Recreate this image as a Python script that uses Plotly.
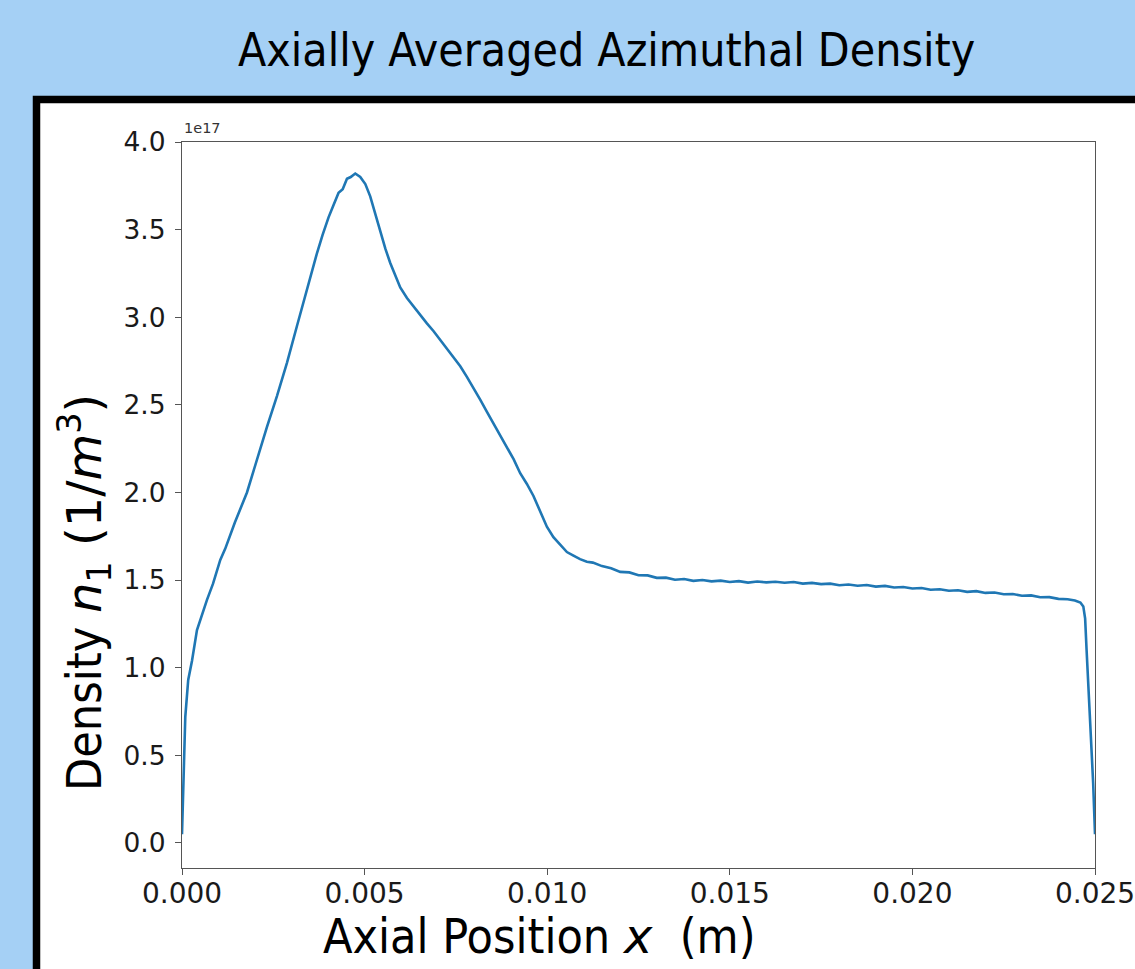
import plotly.graph_objects as go

# Axial position (m)
x_m = [
    0.0, 0.000044, 0.00009, 0.00017, 0.000274, 0.00041, 0.00055, 0.000684, 0.00085,
    0.001048, 0.001185, 0.00145, 0.001779, 0.00205, 0.002327, 0.0026, 0.002874,
    0.003148, 0.003422, 0.003695, 0.00385, 0.004013, 0.00415, 0.004287, 0.0044,
    0.004517, 0.00462, 0.004744, 0.004881, 0.00502, 0.005154, 0.00529, 0.005428,
    0.00557, 0.005702, 0.00584, 0.005976, 0.00616, 0.00634, 0.00652, 0.006706,
    0.00689, 0.00707, 0.00725, 0.007435, 0.00762, 0.007801, 0.00798, 0.008165,
    0.00835, 0.008529, 0.00871, 0.008896, 0.00908, 0.00926, 0.00944, 0.009624,
    0.00981, 0.009991, 0.01017, 0.010355, 0.01054, 0.010719, 0.0109, 0.011086,
    0.01125, 0.0115, 0.01175, 0.012, 0.01225, 0.0125, 0.01275, 0.013, 0.01325,
    0.0135, 0.01375, 0.014, 0.01425, 0.0145, 0.01475, 0.015, 0.01525, 0.0155,
    0.01575, 0.016, 0.01625, 0.0165, 0.01675, 0.017, 0.01725, 0.0175, 0.01775,
    0.018, 0.01825, 0.0185, 0.01875, 0.019, 0.01925, 0.0195, 0.01975, 0.02,
    0.02025, 0.0205, 0.02075, 0.021, 0.02125, 0.0215, 0.02175, 0.022, 0.02225,
    0.0225, 0.02275, 0.023, 0.02325, 0.0235, 0.02375, 0.024, 0.02425, 0.02445,
    0.0246, 0.02468, 0.02473, 0.02477, 0.02482, 0.02486, 0.02491, 0.02495, 0.025,
]

# Density n1 in units of 1e17 m^-3
n1_1e17 = [
    0.05, 0.47, 0.72, 0.93, 1.04, 1.215, 1.31, 1.387, 1.48,
    1.615, 1.68, 1.83, 2.0, 2.19, 2.375, 2.55, 2.74,
    2.95, 3.16, 3.365, 3.47, 3.57, 3.64, 3.71, 3.73,
    3.79, 3.80, 3.82, 3.80, 3.76, 3.69, 3.59, 3.48,
    3.39, 3.31, 3.24, 3.17, 3.11, 3.06, 3.01, 2.965,
    2.92, 2.87, 2.82, 2.775, 2.72, 2.66, 2.60, 2.53,
    2.46, 2.395, 2.33, 2.26, 2.19, 2.11, 2.05, 1.98,
    1.89, 1.805, 1.745, 1.70, 1.66, 1.64, 1.62, 1.605,
    1.600, 1.580, 1.568, 1.547, 1.544, 1.528, 1.527, 1.513, 1.514,
    1.502, 1.506, 1.496, 1.501, 1.493, 1.497, 1.489, 1.494, 1.486,
    1.492, 1.487, 1.491, 1.485, 1.489, 1.480, 1.484, 1.477, 1.480,
    1.471, 1.475, 1.468, 1.472, 1.463, 1.467, 1.458, 1.461, 1.452,
    1.455, 1.445, 1.448, 1.439, 1.442, 1.433, 1.437, 1.427, 1.429,
    1.419, 1.421, 1.411, 1.413, 1.402, 1.403, 1.393, 1.391, 1.384,
    1.372, 1.350, 1.28, 1.10, 0.90, 0.72, 0.52, 0.34, 0.05,
]

x_ticks = [0.0, 0.005, 0.010, 0.015, 0.020, 0.025]
x_tick_labels = ["0.000", "0.005", "0.010", "0.015", "0.020", "0.025"]
y_ticks = [0.0, 0.5, 1.0, 1.5, 2.0, 2.5, 3.0, 3.5, 4.0]
y_tick_labels = ["0.0", "0.5", "1.0", "1.5", "2.0", "2.5", "3.0", "3.5", "4.0"]

W, H = 1135, 969
L, R, T, B = 182, 40, 142, 101
PW, PH = W - L - R, H - T - B
BG = "#a5d0f5"


def px(xp):
    return (xp - L) / PW


def py(yp):
    return (H - B - yp) / PH


LABEL_FONT = "DejaVu Sans Condensed, Liberation Sans, sans-serif"
MATH = "font-family:DejaVu Sans"

fig = go.Figure()
fig.add_trace(go.Scatter(
    x=x_m, y=n1_1e17, mode="lines",
    line=dict(color="#1f77b4", width=2.6),
    showlegend=False, hoverinfo="skip",
))

axis_common = dict(
    showgrid=False, zeroline=False, showline=True, mirror=True,
    linecolor="#555555", linewidth=1.3,
    ticks="outside", ticklen=6, tickwidth=1.2, tickcolor="#555555",
    ticklabeloverflow="allow", automargin=False,
)

fig.update_xaxes(range=[0, 0.025], tickvals=x_ticks, ticktext=x_tick_labels,
                 ticklabelstandoff=-6,
                 tickfont=dict(family="DejaVu Sans", size=28, color="#1a1a1a"),
                 **axis_common)
fig.update_yaxes(range=[-0.1427, 4.0], tickvals=y_ticks, ticktext=y_tick_labels,
                 ticklabelstandoff=4,
                 tickfont=dict(family="DejaVu Sans", size=26.5, color="#1a1a1a"),
                 **axis_common)

fig.update_layout(
    width=W, height=H,
    margin=dict(l=L, r=R, t=T, b=B, pad=0, autoexpand=False),
    paper_bgcolor=BG,
    plot_bgcolor="white",
    shapes=[dict(
        type="rect", xref="paper", yref="paper", layer="below",
        x0=px(36.5), x1=px(1160), y0=py(1000), y1=py(99.5),
        fillcolor="white", line=dict(color="black", width=7.5),
    )],
    annotations=[
        dict(text="Axially Averaged Azimuthal Density", xref="paper", yref="paper",
             x=px(606), y=py(50), xanchor="center", yanchor="middle", showarrow=False,
             font=dict(family=LABEL_FONT, size=46, color="black")),
        dict(text="1e17", xref="paper", yref="paper",
             x=px(182), y=py(138), xanchor="left", yanchor="bottom", showarrow=False,
             font=dict(family="DejaVu Sans", size=14.5, color="#333333")),
        dict(text=f"Axial Position <span style='{MATH}'><i>x</i></span>  (m)",
             xref="paper", yref="paper",
             x=px(539), y=py(936), xanchor="center", yanchor="middle", showarrow=False,
             font=dict(family=LABEL_FONT, size=48, color="black")),
        dict(text=(f"Density <span style='{MATH}'><i>n</i><sub>1</sub> "
                   f"(1/<i>m</i><sup>3</sup>)</span>"),
             xref="paper", yref="paper", textangle=-90,
             x=px(84), y=py(593), xanchor="center", yanchor="middle", showarrow=False,
             font=dict(family=LABEL_FONT, size=48, color="black")),
    ],
)

fig.write_html(
    "out.html",
    config={"displayModeBar": False},
    post_script=("document.body.style.margin='0';"
                 "document.body.style.background='" + BG + "';"),
)
